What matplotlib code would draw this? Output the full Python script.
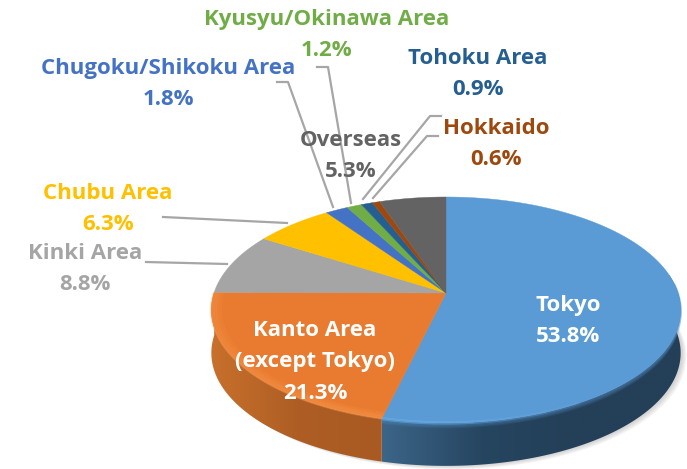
import matplotlib
matplotlib.use("Agg")
import matplotlib.pyplot as plt
import numpy as np
from matplotlib.patches import Polygon
from matplotlib.colors import LinearSegmentedColormap

# DATA
labels = ["Tokyo", "Kanto Area\n(except Tokyo)", "Kinki Area", "Chubu Area", "Chugoku/Shikoku Area",
          "Kyusyu/Okinawa Area", "Tohoku Area", "Hokkaido", "Overseas"]
shares = [53.8, 21.3, 8.8, 6.3, 1.8, 1.2, 0.9, 0.6, 5.3]
colors = ["#5b9bd5", "#e97b30", "#a5a5a5", "#ffc000", "#4472c4", "#70ad47", "#255e91", "#9e480e", "#636363"]
text_colors = ["white", "white", "#a5a5a5", "#ffc000", "#4472c4", "#70ad47", "#255e91", "#9e480e", "#636363"]

# label centres, pixels
label_xy = [(568, 321), (315, 362), (85, 269), (108, 209), (168, 84), (327, 35), (478, 74), (496, 144), (351, 156)]
# leader lines, pixels
leaders = [[(146, 262), (227, 264)],
           [(163, 217), (287, 223)],
           [(277, 82), (288, 82), (333, 207)],
           [(317, 67), (328, 67), (351, 203)],
           [(441, 116), (430, 116), (363, 199)],
           [(438, 136), (427, 136), (373, 198)]]

# pie geometry, pixels. Tilted disc drawn through a perspective map
CX, CY = 446, 293
A, B, K = 232, 110.4, 0.15
DEPTH = 43


def project(t, r=1.0):
    u = r*np.sin(t)
    v = r*np.cos(t)
    w = 1 + K*v
    return CX + A*u/w, CY - B*v/w


def rim(t0, t1, r=1.0, n=200):
    t = np.linspace(t0, t1, n)
    return np.column_stack(project(t, r))


fig = plt.figure(figsize=(6.87, 4.69), dpi=100)
ax = fig.add_axes([0, 0, 1, 1])
ax.set_xlim(0, 687)
ax.set_ylim(469, 0)
ax.axis("off")

# shadow under the pie
t_all = np.linspace(0, 2*np.pi, 300)
ring = np.column_stack(project(t_all))
for i in range(8):
    ax.add_patch(Polygon(ring + [1 + i*0.7, DEPTH + i*0.5], closed=True, fc="#808080", ec="none", alpha=0.05, zorder=1))

edges = np.radians(np.cumsum([0] + shares)*360/sum(shares))
edges[-1] = 2*np.pi

# side wall, only the front of the disc shows
visible = [(np.radians(80), edges[1], ["#243f58", "#243f58", "#264560", "#3c6588"]),
           (edges[1], edges[2], ["#a85a22", "#ae5e24", "#c8702c"])]
for t0, t1, stops in visible:
    top = rim(t0, t1)
    wall = np.vstack([top, (top + [0, DEPTH])[::-1]])
    poly = Polygon(wall, closed=True, fc="none", ec="none", zorder=2)
    ax.add_patch(poly)
    cmap = LinearSegmentedColormap.from_list("w", stops)
    x0, x1 = wall[:, 0].min(), wall[:, 0].max()
    grad = np.linspace(0, 1, 256).reshape(1, -1)[:, ::-1]
    im = ax.imshow(grad, extent=[x0, x1, 469, 190], cmap=cmap, aspect="auto", zorder=2)
    im.set_clip_path(poly)
ax.set_xlim(0, 687)
ax.set_ylim(469, 0)

# top of the pie
for i in range(len(shares)):
    pts = np.vstack([[CX, CY], rim(edges[i], edges[i+1])])
    ax.add_patch(Polygon(pts, closed=True, fc=colors[i], ec=colors[i], lw=0.3, zorder=3))

# blurred edge between top and wall
pts = rim(np.radians(85), edges[1])
for j in range(5):
    ax.plot(pts[:, 0], pts[:, 1] + j*1.1, color=colors[0], lw=1.5, alpha=0.3 - j*0.05, zorder=2.5, solid_capstyle="butt")

# soft lit rim along the front, fades out towards the right on Tokyo
for start in [150, 158, 166, 174, 182]:
    pts = rim(np.radians(start), edges[1], 1.0)
    ax.plot(pts[:, 0], pts[:, 1], color="#6cb2ee", lw=2.5, alpha=0.12, zorder=4, solid_capstyle="butt")
for r, al in [(0.96, 0.12), (0.97, 0.2), (0.98, 0.3), (0.99, 0.35), (1.0, 0.4)]:
    pts = rim(edges[1], edges[2], r)
    ax.plot(pts[:, 0], pts[:, 1], color="#f89a4e", lw=1.6, alpha=al, zorder=4, solid_capstyle="butt")

for line in leaders:
    xs, ys = zip(*line)
    ax.plot(xs, ys, color="#a6a6a6", lw=1.6, zorder=5, solid_joinstyle="round")

for i in range(len(shares)):
    ax.text(label_xy[i][0], label_xy[i][1], "{}\n{}%".format(labels[i], shares[i]), color=text_colors[i],
            ha="center", va="center", fontsize=16, fontweight="bold", family="Open Sans",
            linespacing=1.67, zorder=6)

fig.savefig("out.png", dpi=100)
